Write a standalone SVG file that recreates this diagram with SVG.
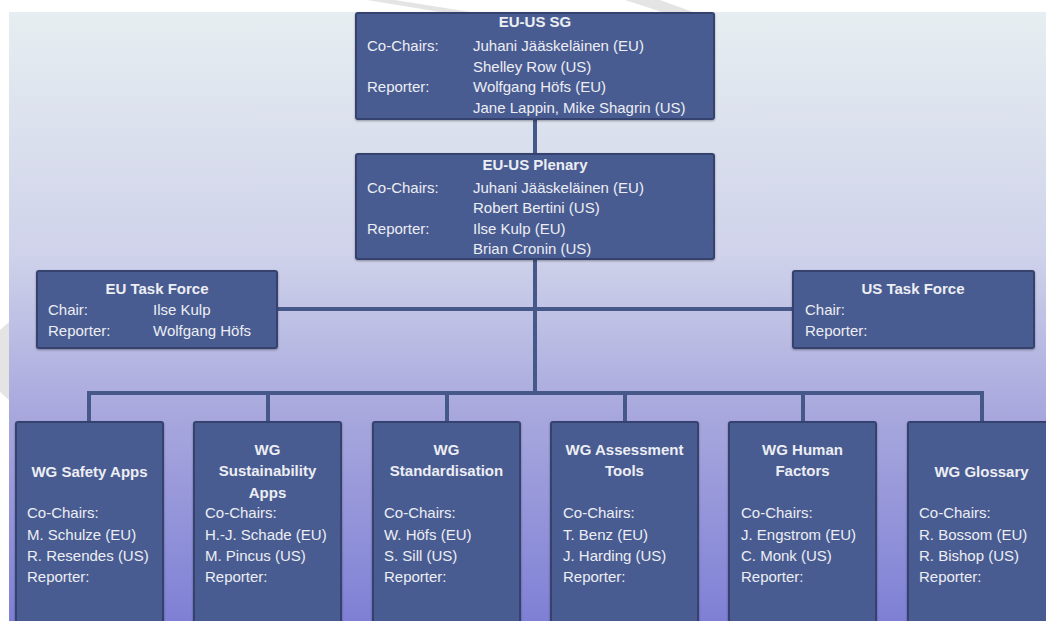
<svg xmlns="http://www.w3.org/2000/svg" width="1046" height="621" viewBox="0 0 1046 621">
<defs>
<linearGradient id="bg" x1="0" y1="12" x2="0" y2="621" gradientUnits="userSpaceOnUse">
<stop offset="0" stop-color="#e7eef1"/>
<stop offset="0.4" stop-color="#cfd2ea"/>
<stop offset="0.65" stop-color="#a9a9de"/>
<stop offset="1" stop-color="#7f80d5"/>
</linearGradient>
<filter id="sh" x="-5%" y="-5%" width="110%" height="110%">
<feGaussianBlur in="SourceAlpha" stdDeviation="1"/>
<feOffset dx="0" dy="1"/>
<feComponentTransfer><feFuncA type="linear" slope="0.35"/></feComponentTransfer>
<feMerge><feMergeNode/><feMergeNode in="SourceGraphic"/></feMerge>
</filter>
</defs>
<style>
.box{fill:#4a5b91;stroke:#34426e;stroke-width:2;filter:url(#sh)}
.t{font-family:"Liberation Sans",Arial,sans-serif;font-size:15px;fill:#eceef4}
.b{font-weight:bold;text-anchor:middle}
.con{fill:none;stroke:#46588a;stroke-width:4}
.wm{fill:#e4e4e4}
</style>
<rect x="0" y="0" width="1046" height="621" fill="#ffffff"/>
<polygon class="wm" points="367,0 395,0 470,12 440,12"/>
<polygon class="wm" points="625,0 660,0 693,12 662,12"/>
<polygon class="wm" points="0,330 9,322 9,400 0,392"/>
<rect x="9" y="12" width="1037" height="609" fill="url(#bg)"/>

<g id="connectors">
<path class="con" d="M535,119 V154"/>
<path class="con" d="M535,259 V393"/>
<path class="con" d="M277,309 H793"/>
<path class="con" d="M89,422 V393 H982 V422"/>
<path class="con" d="M268,393 V422 M447,393 V422 M625,393 V422 M803,393 V422"/>
</g>

<g id="eu-us-sg">
<rect class="box" x="356" y="13" width="358" height="106" rx="2"/>
<text class="t b" x="535" y="27">EU-US SG</text>
<text class="t" x="367" y="51">Co-Chairs:</text>
<text class="t" x="473" y="51">Juhani Jääskeläinen (EU)</text>
<text class="t" x="473" y="72">Shelley Row (US)</text>
<text class="t" x="367" y="92">Reporter:</text>
<text class="t" x="473" y="92">Wolfgang Höfs (EU)</text>
<text class="t" x="473" y="113">Jane Lappin, Mike Shagrin (US)</text>
</g>

<g id="eu-us-plenary">
<rect class="box" x="356" y="154" width="358" height="105" rx="2"/>
<text class="t b" x="535" y="170">EU-US Plenary</text>
<text class="t" x="367" y="193">Co-Chairs:</text>
<text class="t" x="473" y="193">Juhani Jääskeläinen (EU)</text>
<text class="t" x="473" y="213">Robert Bertini (US)</text>
<text class="t" x="367" y="234">Reporter:</text>
<text class="t" x="473" y="234">Ilse Kulp (EU)</text>
<text class="t" x="473" y="254">Brian Cronin (US)</text>
</g>

<g id="eu-task-force">
<rect class="box" x="37" y="271" width="240" height="77" rx="2"/>
<text class="t b" x="157" y="294">EU Task Force</text>
<text class="t" x="48" y="315">Chair:</text>
<text class="t" x="153" y="315">Ilse Kulp</text>
<text class="t" x="48" y="336">Reporter:</text>
<text class="t" x="153" y="336">Wolfgang Höfs</text>
</g>

<g id="us-task-force">
<rect class="box" x="793" y="271" width="241" height="77" rx="2"/>
<text class="t b" x="913" y="294">US Task Force</text>
<text class="t" x="805" y="315">Chair:</text>
<text class="t" x="805" y="336">Reporter:</text>
</g>

<g id="wg-safety-apps">
<rect class="box" x="16" y="422" width="147" height="210" rx="2"/>
<text class="t b" x="89.5" y="477">WG Safety Apps</text>
<text class="t" x="27" y="518">Co-Chairs:</text>
<text class="t" x="27" y="540">M. Schulze (EU)</text>
<text class="t" x="27" y="561">R. Resendes (US)</text>
<text class="t" x="27" y="582">Reporter:</text>
</g>

<g id="wg-sustainability-apps">
<rect class="box" x="194" y="422" width="147" height="210" rx="2"/>
<text class="t b" x="267.5" y="455">WG</text>
<text class="t b" x="267.5" y="476">Sustainability</text>
<text class="t b" x="267.5" y="498">Apps</text>
<text class="t" x="205" y="518">Co-Chairs:</text>
<text class="t" x="205" y="540">H.-J. Schade (EU)</text>
<text class="t" x="205" y="561">M. Pincus (US)</text>
<text class="t" x="205" y="582">Reporter:</text>
</g>

<g id="wg-standardisation">
<rect class="box" x="373" y="422" width="147" height="210" rx="2"/>
<text class="t b" x="446.5" y="455">WG</text>
<text class="t b" x="446.5" y="476">Standardisation</text>
<text class="t" x="384" y="518">Co-Chairs:</text>
<text class="t" x="384" y="540">W. Höfs (EU)</text>
<text class="t" x="384" y="561">S. Sill (US)</text>
<text class="t" x="384" y="582">Reporter:</text>
</g>

<g id="wg-assessment-tools">
<rect class="box" x="551" y="422" width="147" height="210" rx="2"/>
<text class="t b" x="624.5" y="455">WG Assessment</text>
<text class="t b" x="624.5" y="476">Tools</text>
<text class="t" x="563" y="518">Co-Chairs:</text>
<text class="t" x="563" y="540">T. Benz (EU)</text>
<text class="t" x="563" y="561">J. Harding (US)</text>
<text class="t" x="563" y="582">Reporter:</text>
</g>

<g id="wg-human-factors">
<rect class="box" x="729" y="422" width="147" height="210" rx="2"/>
<text class="t b" x="802.5" y="455">WG Human</text>
<text class="t b" x="802.5" y="476">Factors</text>
<text class="t" x="741" y="518">Co-Chairs:</text>
<text class="t" x="741" y="540">J. Engstrom (EU)</text>
<text class="t" x="741" y="561">C. Monk (US)</text>
<text class="t" x="741" y="582">Reporter:</text>
</g>

<g id="wg-glossary">
<rect class="box" x="908" y="422" width="147" height="210" rx="2"/>
<text class="t b" x="981.5" y="477">WG Glossary</text>
<text class="t" x="919" y="518">Co-Chairs:</text>
<text class="t" x="919" y="540">R. Bossom (EU)</text>
<text class="t" x="919" y="561">R. Bishop (US)</text>
<text class="t" x="919" y="582">Reporter:</text>
</g>
</svg>
